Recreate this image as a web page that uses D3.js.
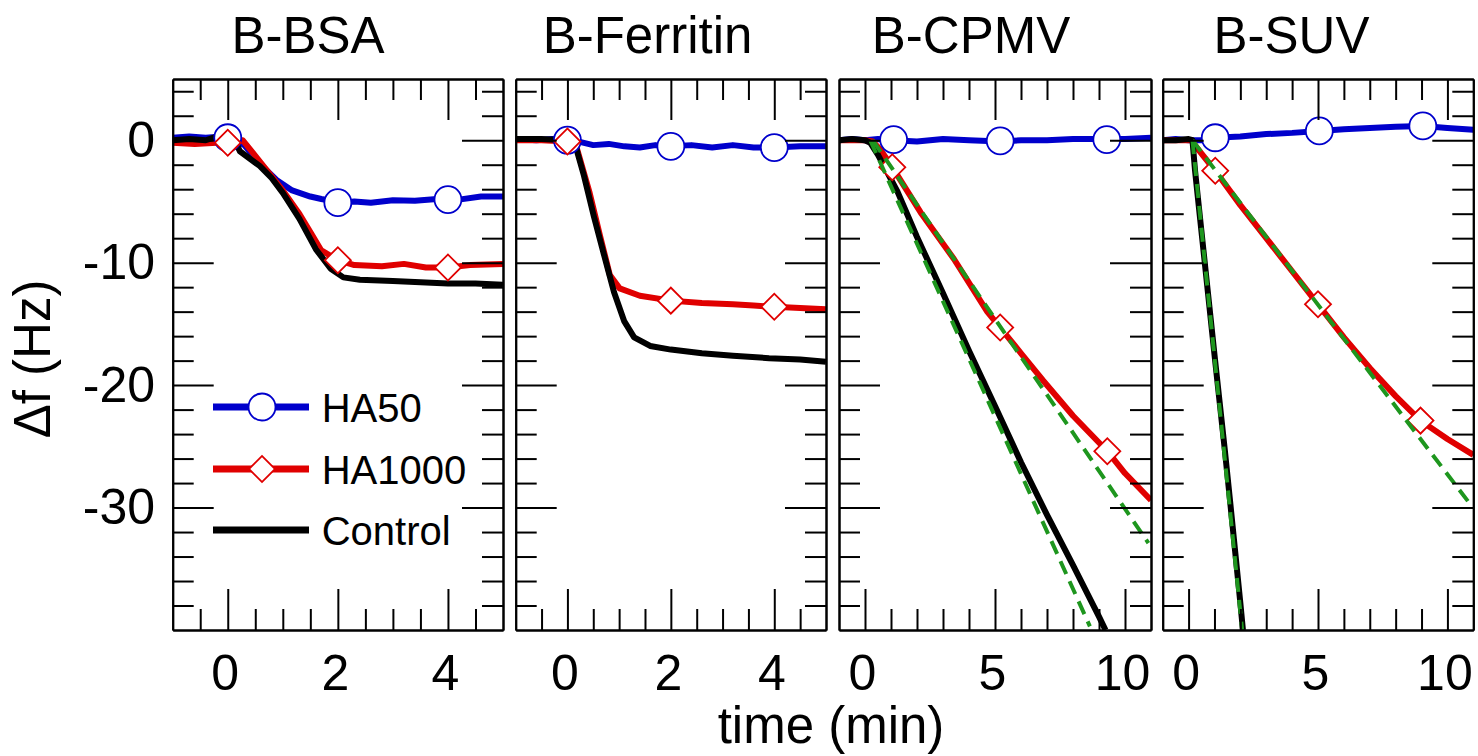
<!DOCTYPE html>
<html>
<head>
<meta charset="utf-8">
<script src="https://cdn.jsdelivr.net/npm/d3@7"></script>
<style>
  body { margin: 0; background: #fff; }
  text { font-family: "Liberation Sans", Arial, sans-serif; }
</style>
</head>
<body>
<div id="chart"></div>
<script>
// panel titles, tick labels, legend names
const titles = ["B-BSA", "B-Ferritin", "B-CPMV", "B-SUV"];
const xTickLabels = [[0, 2, 4], [0, 2, 4], [0, 5, 10], [0, 5, 10]];
const xMinorStep = [0.5, 0.5, 1, 1];
const yTickLabels = [0, -10, -20, -30];
const seriesNames = ["HA50", "HA1000", "Control"];

// [time (min), delta f (Hz)]
const bsaHA50 = [[-1,0.2],[-0.7,0.3],[-0.4,0.2],[-0.1,0.3],[0.1,0.1],[0.3,-0.4],[0.6,-2.0],[0.9,-3.3],[1.17,-4.1],[1.5,-4.6],[1.7,-4.8],[2.05,-5.1],[2.3,-5.0],[2.6,-5.1],[3.0,-4.9],[3.4,-4.95],[3.8,-4.8],[4.2,-4.85],[4.6,-4.6],[5,-4.6]];
const bsaHA1000 = [[-1,-0.2],[-0.6,-0.3],[-0.2,-0.2],[0,-0.2],[0.27,0],[0.45,-1.0],[0.7,-2.4],[1.0,-4.1],[1.3,-6.0],[1.5,-7.5],[1.7,-9.0],[2.0,-9.8],[2.3,-10.2],[2.8,-10.3],[3.2,-10.1],[3.6,-10.4],[4.0,-10.4],[4.4,-10.2],[5,-10.1]];
const bsaControl = [[-1,0],[-0.7,0.1],[-0.4,0],[-0.2,0.3],[0,0.1],[0.16,-0.3],[0.22,-0.9],[0.58,-2.1],[0.8,-3.1],[1.0,-4.3],[1.3,-6.4],[1.6,-8.9],[1.87,-10.5],[2.1,-11.2],[2.4,-11.4],[3.0,-11.5],[3.5,-11.6],[4.0,-11.7],[4.5,-11.7],[5,-11.8]];

const ferHA50 = [[-1,0.1],[-0.6,0],[-0.3,0.1],[0,0],[0.2,-0.1],[0.5,-0.4],[0.8,-0.3],[1.1,-0.5],[1.4,-0.6],[1.7,-0.4],[2.0,-0.5],[2.4,-0.4],[2.8,-0.6],[3.2,-0.4],[3.6,-0.6],[4.0,-0.6],[4.5,-0.5],[5,-0.5]];
const ferHA1000 = [[-1,0],[-0.5,0],[0,-0.1],[0.15,-0.2],[0.24,-1.5],[0.43,-4.3],[0.63,-7.8],[0.82,-11.0],[1.01,-12.1],[1.4,-12.7],[2.0,-13.1],[2.6,-13.3],[3.2,-13.4],[3.6,-13.5],[4.0,-13.6],[4.5,-13.7],[5,-13.8]];
const ferControl = [[-1,0.1],[-0.5,0.1],[0,0],[0.15,-0.2],[0.2,-1.1],[0.32,-2.9],[0.51,-6.2],[0.71,-9.4],[0.9,-12.4],[1.1,-14.8],[1.29,-16.1],[1.6,-16.8],[2.0,-17.1],[2.6,-17.4],[3.2,-17.6],[3.9,-17.8],[4.5,-17.9],[5,-18.1]];

const cpmvHA50 = [[-1,0],[-0.5,0.1],[0,0],[0.5,0.1],[1.1,0],[2,-0.1],[3,0.1],[4,0],[5.2,-0.1],[6,0],[7,0],[8,0.1],[9.3,0.1],[10,0.1],[11,0.2]];
const cpmvHA1000 = [[-1,0],[0,0],[0.3,-0.1],[0.6,-0.8],[1.05,-2.2],[2.14,-5.9],[3.42,-9.7],[4.7,-14.0],[5.2,-15.3],[6.0,-17.4],[6.84,-19.6],[8,-22.5],[9.32,-25.4],[10,-27.2],[11,-29.4]];
const cpmvControl = [[-1,0],[-0.5,0.1],[0,0],[0.2,-0.2],[0.5,-1.2],[1.0,-3.2],[1.25,-4.2],[2,-7.9],[3,-12.5],[4,-17.2],[5,-21.7],[6,-26.3],[7,-30.6],[8,-34.7],[9,-38.9],[9.25,-40]];

const suvHA50 = [[-1,0],[-0.5,0.1],[0,0],[0.5,0],[1.03,0.2],[2,0.3],[3,0.5],[4,0.6],[5.05,0.76],[6,0.9],[7,1.0],[8,1.1],[9.05,1.17],[10,1.0],[11,0.85]];
const suvHA1000 = [[-1,0],[0,0],[0.1,0],[0.5,-1.1],[1.03,-2.5],[2,-5.3],[3,-8.0],[4,-10.7],[5,-13.4],[6,-16.1],[7,-18.6],[8,-20.9],[8.96,-22.9],[10,-24.4],[11,-25.7]];
const suvControl = [[-1,0],[-0.5,0],[0,0.1],[0.15,0],[0.25,-2.5],[0.4,-5.5],[0.6,-9.5],[0.8,-13.5],[1.0,-17.5],[1.2,-21.4],[1.4,-25.3],[1.6,-29.4],[1.8,-33.6],[2.0,-37.8],[2.1,-40]];

// marker positions
const ha50Markers = [[[0,0.2],[2,-5.1],[4,-4.85]], [[0,0],[2,-0.5],[4,-0.6]], [[1.1,0.05],[5.2,-0.05],[9.3,0.05]], [[1.03,0.2],[5.05,0.76],[9.05,1.17]]];
const ha1000Markers = [[[0,-0.2],[2,-9.8],[4,-10.4]], [[0,-0.1],[2,-13.1],[4,-13.6]], [[1.05,-2.2],[5.2,-15.3],[9.32,-25.4]], [[1.03,-2.5],[5.0,-13.4],[8.96,-22.9]]];

// linear fits (green dashed), only for CPMV and SUV
const cpmvFits = [[[0.3,0],[10.9,-32.9]], [[0.2,0],[8.65,-39.7]]];
const suvFits = [[[0.15,0],[10.8,-29.5]], [[0.15,0],[2.07,-40]]];

const series = [
  [bsaHA50, bsaHA1000, bsaControl],
  [ferHA50, ferHA1000, ferControl],
  [cpmvHA50, cpmvHA1000, cpmvControl],
  [suvHA50, suvHA1000, suvControl]
];
const fits = [[], [], cpmvFits, suvFits];

const colors = ["#0000cc", "#e00000", "#000000"];
const green = "#1e961e";

const width = 1478, height = 756;
const plotTop = 79, plotBottom = 630;
const panelX = [[172.7, 503], [515.7, 826], [839, 1151], [1162.7, 1473.3]];
const xDomains = [[-1, 5], [-1, 5], [-1, 11], [-1, 11]];
const titleX = [308, 647.5, 971, 1291.5];
const majorLen = 41, minorLen = 21;

const svg = d3.select("#chart")
    .append("svg")
    .attr("width", width)
    .attr("height", height)
    .style("background", "#fff");

const y = d3.scaleLinear().domain([-40, 5]).range([plotBottom, plotTop]);
const yMinor = d3.range(-38, 5, 2).filter(v => v % 10 !== 0);

// plain hyphen for negatives, as in the original figure
const plainFormat = d => String(d);

function diamond(sel, x) {
  sel.attr("d", d3.symbol(d3.symbolSquare, 338))
    .attr("transform", d => `translate(${x(d[0])},${y(d[1])}) rotate(45)`)
    .attr("fill", "#fff")
    .attr("stroke", colors[1])
    .attr("stroke-width", 1.8);
}

function styleAxis(g) {
  g.attr("font-size", 50)
    .attr("font-family", "'Liberation Sans', Arial, sans-serif");
  g.selectAll("line, path").attr("stroke", "#000").attr("stroke-width", 2);
  g.selectAll("text").attr("fill", "#000");
  return g;
}

titles.forEach((title, i) => {
  const x = d3.scaleLinear().domain(xDomains[i]).range(panelX[i]);
  const g = svg.append("g");

  const clipId = "clip" + i;
  g.append("clipPath").attr("id", clipId)
    .append("rect")
    .attr("x", panelX[i][0]).attr("y", plotTop)
    .attr("width", panelX[i][1] - panelX[i][0]).attr("height", plotBottom - plotTop);

  const plot = g.append("g").attr("clip-path", `url(#${clipId})`);
  const line = d3.line().x(d => x(d[0])).y(d => y(d[1]));

  series[i].forEach((s, k) => {
    plot.append("path")
      .attr("d", line(s))
      .attr("fill", "none")
      .attr("stroke", colors[k])
      .attr("stroke-width", 6)
      .attr("stroke-linejoin", "round");
  });

  plot.selectAll(".c").data(ha50Markers[i]).enter().append("circle")
    .attr("cx", d => x(d[0])).attr("cy", d => y(d[1])).attr("r", 13.5)
    .attr("fill", "#fff").attr("stroke", colors[0]).attr("stroke-width", 1.8);
  plot.selectAll(".d").data(ha1000Markers[i]).enter().append("path")
    .call(diamond, x);

  fits[i].forEach(f => {
    plot.append("path")
      .attr("d", line(f))
      .attr("fill", "none")
      .attr("stroke", green)
      .attr("stroke-width", 4)
      .attr("stroke-dasharray", "14,8");
  });

  // axes: ticks pointing inward on all four sides
  const [x0, x1] = xDomains[i];
  const xMajor = xTickLabels[i];
  const xMinor = d3.range(x0 + xMinorStep[i], x1, xMinorStep[i])
    .filter(v => !xMajor.some(m => Math.abs(m - v) < 1e-9));

  const bMaj = g.append("g").attr("transform", `translate(0,${plotBottom})`)
    .call(d3.axisBottom(x).tickValues(xMajor).tickSize(-majorLen).tickSizeOuter(0).tickPadding(24.5).tickFormat(plainFormat));
  bMaj.selectAll("text").attr("dx", -3);
  styleAxis(bMaj);
  styleAxis(g.append("g").attr("transform", `translate(0,${plotBottom})`)
    .call(d3.axisBottom(x).tickValues(xMinor).tickSize(-minorLen).tickSizeOuter(0).tickFormat("")));
  styleAxis(g.append("g").attr("transform", `translate(0,${plotTop})`)
    .call(d3.axisTop(x).tickValues(xMajor).tickSize(-majorLen).tickSizeOuter(0).tickFormat("")));
  styleAxis(g.append("g").attr("transform", `translate(0,${plotTop})`)
    .call(d3.axisTop(x).tickValues(xMinor).tickSize(-minorLen).tickSizeOuter(0).tickFormat("")));

  styleAxis(g.append("g").attr("transform", `translate(${panelX[i][0]},0)`)
    .call(d3.axisLeft(y).tickValues(yTickLabels).tickSize(-majorLen).tickSizeOuter(0).tickPadding(17.7)
      .tickFormat(i === 0 ? plainFormat : "")));
  styleAxis(g.append("g").attr("transform", `translate(${panelX[i][0]},0)`)
    .call(d3.axisLeft(y).tickValues(yMinor).tickSize(-minorLen).tickSizeOuter(0).tickFormat("")));
  styleAxis(g.append("g").attr("transform", `translate(${panelX[i][1]},0)`)
    .call(d3.axisRight(y).tickValues(yTickLabels).tickSize(-majorLen).tickSizeOuter(0).tickFormat("")));
  styleAxis(g.append("g").attr("transform", `translate(${panelX[i][1]},0)`)
    .call(d3.axisRight(y).tickValues(yMinor).tickSize(-minorLen).tickSizeOuter(0).tickFormat("")));

  svg.append("text")
    .attr("x", titleX[i]).attr("y", 53)
    .attr("text-anchor", "middle")
    .attr("font-size", 51)
    .text(title);
});

// axis titles
svg.append("text")
  .attr("transform", "translate(50,359) rotate(-90)")
  .attr("text-anchor", "middle")
  .attr("font-size", 51)
  .text("\u0394f (Hz)");

svg.append("text")
  .attr("x", 831).attr("y", 743)
  .attr("text-anchor", "middle")
  .attr("font-size", 51)
  .text("time (min)");

// legend inside first panel
const legendY = [407, 469, 530];
const legend = svg.append("g");
seriesNames.forEach((name, k) => {
  legend.append("line")
    .attr("x1", 213).attr("x2", 309)
    .attr("y1", legendY[k]).attr("y2", legendY[k])
    .attr("stroke", colors[k]).attr("stroke-width", 7);
  legend.append("text")
    .attr("x", 321.7).attr("y", legendY[k] + 14.5)
    .attr("font-size", 40)
    .text(name);
});
legend.append("circle")
  .attr("cx", 262).attr("cy", legendY[0]).attr("r", 13.5)
  .attr("fill", "#fff").attr("stroke", colors[0]).attr("stroke-width", 1.8);
legend.append("path")
  .attr("d", d3.symbol(d3.symbolSquare, 338))
  .attr("transform", `translate(262,${legendY[1]}) rotate(45)`)
  .attr("fill", "#fff").attr("stroke", colors[1]).attr("stroke-width", 1.8);
</script>
</body>
</html>
